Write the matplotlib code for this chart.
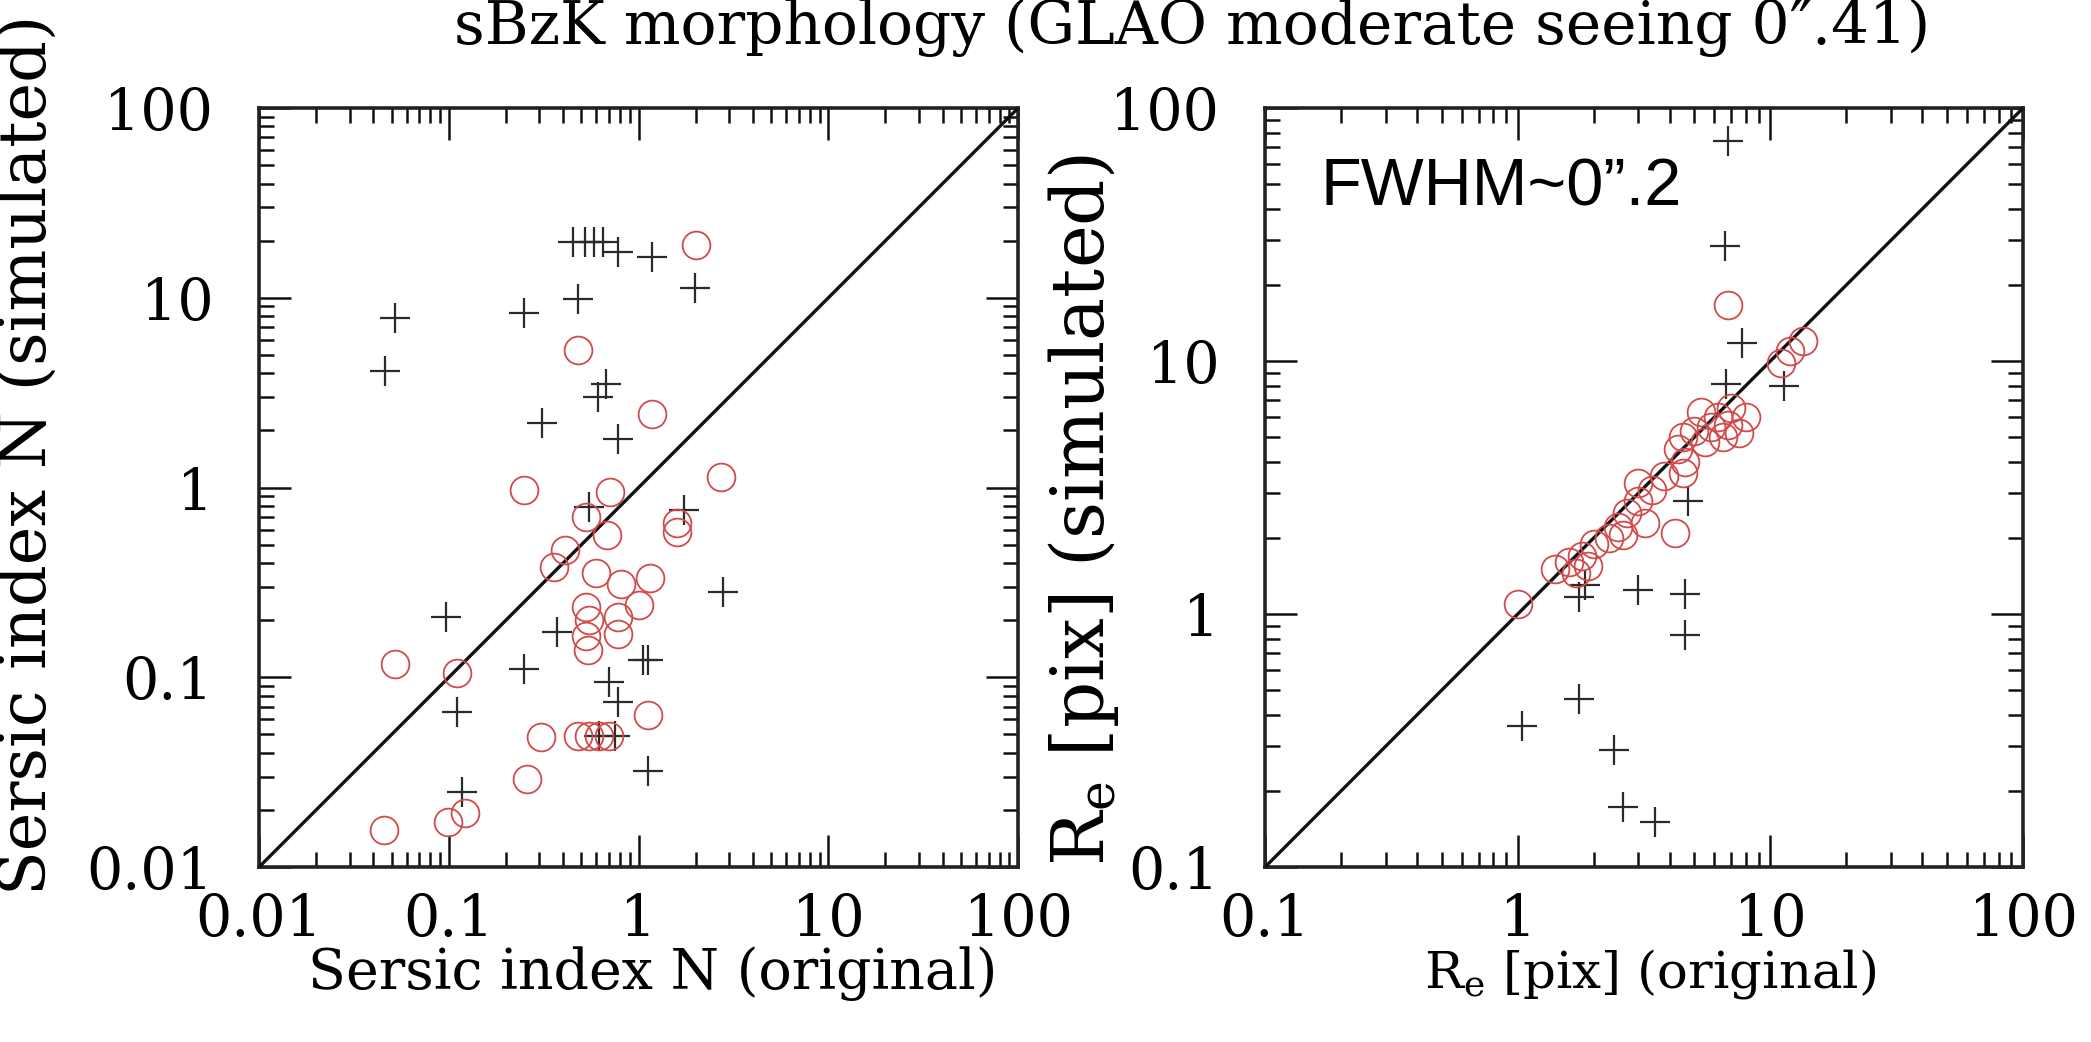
import numpy as np
import matplotlib
matplotlib.use("Agg")
import matplotlib.pyplot as plt
from matplotlib.ticker import LogLocator, FixedLocator, NullFormatter

plt.rcParams['font.family'] = ['DejaVu Serif']

# ---- left panel: Sersic index N (original vs simulated) ----
n_bad_orig = [0.052, 0.046, 0.25, 0.48, 0.45, 0.52, 0.58, 0.65, 0.78, 1.17, 1.98,
              0.67, 0.61, 0.31, 0.78, 0.55, 1.74, 0.37, 0.25, 0.097, 0.111, 1.05,
              1.12, 0.70, 0.78, 0.62, 0.75, 1.12, 0.118, 2.8]
n_bad_sim = [7.8, 4.1, 8.3, 9.9, 19.7, 19.7, 19.7, 19.7, 17.5, 16.5, 11.2,
             3.5, 3.0, 2.2, 1.8, 0.79, 0.76, 0.174, 0.111, 0.208, 0.066, 0.123,
             0.123, 0.095, 0.074, 0.049, 0.049, 0.032, 0.025, 0.28]
n_good_orig = [2.0, 0.48, 1.17, 0.25, 0.71, 2.73, 0.53, 0.68, 0.41, 0.36, 1.6, 1.6,
               0.60, 0.81, 1.15, 1.01, 0.53, 0.78, 0.55, 0.78, 0.53, 0.54, 0.052,
               0.111, 1.12, 0.307, 0.48, 0.55, 0.62, 0.70, 0.258, 0.121, 0.099, 0.0455]
n_good_sim = [19.0, 5.3, 2.45, 0.97, 0.95, 1.13, 0.70, 0.56, 0.47, 0.38, 0.65, 0.58,
              0.353, 0.31, 0.333, 0.24, 0.235, 0.208, 0.20, 0.17, 0.165, 0.14, 0.118,
              0.105, 0.063, 0.0486, 0.049, 0.049, 0.049, 0.049, 0.029, 0.0192, 0.0173, 0.0157]

# ---- right panel: Re [pix] (original vs simulated) ----
re_bad_orig = [6.8, 6.6, 7.7, 6.7, 11.3, 4.7, 1.85, 1.75, 3.0, 4.6, 4.6, 1.75, 1.04,
               2.4, 2.6, 3.5]
re_bad_sim = [74, 28.5, 11.8, 8.1, 8.0, 2.8, 1.3, 1.17, 1.25, 1.2, 0.83, 0.46, 0.36,
              0.29, 0.173, 0.15]
re_good_orig = [1.0, 1.4, 1.6, 1.7, 1.8, 1.9, 2.0, 2.3, 2.5, 2.6, 2.7, 3.0, 3.0, 3.2,
                3.4, 3.8, 4.2, 4.3, 4.5, 4.5, 4.6, 5.0, 5.3, 5.5, 5.8, 6.2, 6.5, 6.8,
                7.0, 7.5, 8.0, 6.8, 11.0, 12.0, 13.5]
re_good_sim = [1.1, 1.5, 1.6, 1.45, 1.7, 1.55, 1.9, 2.0, 2.2, 2.05, 2.5, 2.8, 3.3, 2.3,
               3.1, 3.5, 2.1, 4.5, 5.0, 3.6, 4.0, 5.3, 6.3, 4.8, 5.5, 6.0, 5.0, 5.6,
               6.5, 5.2, 6.0, 16.7, 9.8, 11.0, 12.0]

left_ticks = [0.01, 0.1, 1, 10, 100]
left_ticklabels = ['0.01', '0.1', '1', '10', '100']
right_ticks = [0.1, 1, 10, 100]
right_ticklabels = ['0.1', '1', '10', '100']

red = '#d24a4a'
dark = '#2a2a2a'

fig = plt.figure(figsize=(20.91, 10.42), dpi=100)
ax1 = fig.add_axes([0.1239, 0.1679, 0.363, 0.7284])
ax2 = fig.add_axes([0.605, 0.1679, 0.3625, 0.7284])


def style_axis(ax, lo, hi, ticks, labels):
    ax.set_xscale('log')
    ax.set_yscale('log')
    ax.set_xlim(lo, hi)
    ax.set_ylim(lo, hi)
    ax.plot([lo, hi], [lo, hi], color='#111111', lw=2.4, zorder=3)
    for axis in (ax.xaxis, ax.yaxis):
        axis.set_major_locator(FixedLocator(ticks))
        axis.set_minor_locator(LogLocator(base=10, subs=np.arange(2, 10)))
        axis.set_minor_formatter(NullFormatter())
    ax.set_xticks(ticks)
    ax.set_xticklabels(labels)
    ax.set_yticks(ticks)
    ax.set_yticklabels(labels)
    ax.tick_params(which='both', direction='in', top=True, right=True,
                   width=1.8, color='#111111')
    ax.tick_params(which='major', length=23, labelsize=41)
    ax.tick_params(which='minor', length=11)
    ax.tick_params(axis='y', pad=33)
    ax.tick_params(axis='x', pad=18)
    for sp in ax.spines.values():
        sp.set_linewidth(2.6)
        sp.set_color('#222222')


style_axis(ax1, 0.01, 100, left_ticks, left_ticklabels)
style_axis(ax2, 0.1, 100, right_ticks, right_ticklabels)

ax1.plot(n_bad_orig, n_bad_sim, '+', color=dark, ms=22, mew=1.6, zorder=4)
ax1.plot(n_good_orig, n_good_sim, 'o', mfc='none', mec=red, ms=20, mew=1.3, zorder=5)
ax2.plot(re_bad_orig, re_bad_sim, '+', color=dark, ms=22, mew=1.6, zorder=4)
ax2.plot(re_good_orig, re_good_sim, 'o', mfc='none', mec=red, ms=20, mew=1.3, zorder=5)

ax1.set_xlabel('Sersic index N (original)', fontsize=40)
ax1.xaxis.set_label_coords(0.519, -0.105)
ax1.set_ylabel('Sersic index N (simulated)', fontsize=47)
ax1.yaxis.set_label_coords(-0.262, 0.543)
ax2.set_xlabel(r'R$_\mathregular{e}$ [pix] (original)', fontsize=37)
ax2.xaxis.set_label_coords(0.508, -0.105)
ax2.set_ylabel(r'R$_\mathregular{e}$ [pix] (simulated)', fontsize=52)
ax2.yaxis.set_label_coords(-0.19, 0.47)

ax2.text(0.073, 0.872, 'FWHM~0\u201d.2', transform=ax2.transAxes, fontsize=48,
         family='Liberation Sans', ha='left', va='baseline')

fig.text(0.57, 0.974, 'sBzK morphology (GLAO moderate seeing 0\u2033.41)',
         fontsize=43, ha='center', va='center')

fig.savefig('out.png', dpi=100)
